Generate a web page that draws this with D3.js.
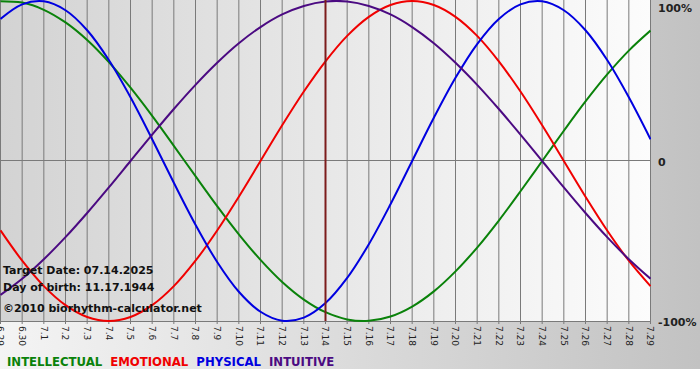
<!DOCTYPE html>
<html>
<head>
<meta charset="utf-8">
<script src="https://cdn.jsdelivr.net/npm/d3@7"></script>
<style>
body { margin: 0; background: #fff; }
</style>
</head>
<body>
<div id="chart"></div>
<script>
var days = ["6.29", "6.30", "7.1", "7.2", "7.3", "7.4", "7.5", "7.6", "7.7", "7.8", "7.9", "7.10",
    "7.11", "7.12", "7.13", "7.14", "7.15", "7.16", "7.17", "7.18", "7.19", "7.20", "7.21", "7.22",
    "7.23", "7.24", "7.25", "7.26", "7.27", "7.28", "7.29"];
var targetDay = "7.14";

var intellectual = [0.999, 0.990, 0.945, 0.866, 0.756, 0.618, 0.458, 0.282, 0.095, -0.095, -0.282,
    -0.458, -0.618, -0.756, -0.866, -0.945, -0.990, -0.999, -0.972, -0.910, -0.815, -0.690, -0.541,
    -0.372, -0.189, 0, 0.189, 0.372, 0.541, 0.690, 0.815];
var emotional = [-0.434, -0.623, -0.782, -0.901, -0.975, -1, -0.975, -0.901, -0.782, -0.623, -0.434,
    -0.223, 0, 0.223, 0.434, 0.623, 0.782, 0.901, 0.975, 1, 0.975, 0.901, 0.782, 0.623, 0.434,
    0.223, 0, -0.223, -0.434, -0.623, -0.782];
var physical = [0.888, 0.979, 0.998, 0.942, 0.817, 0.631, 0.398, 0.136, -0.136, -0.398, -0.631,
    -0.817, -0.942, -0.998, -0.979, -0.888, -0.731, -0.520, -0.270, 0, 0.270, 0.520, 0.731, 0.888,
    0.979, 0.998, 0.942, 0.817, 0.631, 0.398, 0.136];
var intuitive = [-0.837, -0.736, -0.614, -0.476, -0.325, -0.165, 0, 0.165, 0.325, 0.476, 0.614,
    0.736, 0.837, 0.916, 0.969, 0.997, 0.997, 0.969, 0.916, 0.837, 0.736, 0.614, 0.476, 0.325,
    0.165, 0, -0.165, -0.325, -0.476, -0.614, -0.736];

var seriesNames = ["INTELLECTUAL", "EMOTIONAL", "PHYSICAL", "INTUITIVE"];
var seriesColors = ["#0a820a", "#f00000", "#0000e0", "#4b0a82"];
var seriesValues = [intellectual, emotional, physical, intuitive];
var yTickValues = [1, 0, -1];
var yTickLabels = ["100%", "0", "-100%"];
var infoLines = ["Target Date: 07.14.2025", "Day of birth: 11.17.1944", "\u00a92010 biorhythm-calculator.net"];

var width = 700, height = 380;
var plotW = 651, plotTop = 1, plotBottom = 321;

var svg = d3.select("#chart").append("svg")
    .attr("width", width)
    .attr("height", height)
    .style("display", "block");

var defs = svg.append("defs");
var bgGrad = defs.append("linearGradient").attr("id", "bgGrad");
bgGrad.append("stop").attr("offset", "0%").attr("stop-color", "#f4f4f4");
bgGrad.append("stop").attr("offset", "100%").attr("stop-color", "#c2c2c2");
var plotGrad = defs.append("linearGradient").attr("id", "plotGrad");
plotGrad.append("stop").attr("offset", "0%").attr("stop-color", "#d3d3d3");
plotGrad.append("stop").attr("offset", "100%").attr("stop-color", "#fcfcfc");

svg.append("rect")
    .attr("width", width)
    .attr("height", 369)
    .attr("fill", "url(#bgGrad)");

svg.append("rect")
    .attr("x", 0)
    .attr("y", 0)
    .attr("width", plotW)
    .attr("height", plotBottom)
    .attr("fill", "url(#plotGrad)");

var x = d3.scalePoint().domain(days).range([0.5, 650.5]);
var y = d3.scaleLinear().domain([-1, 1]).range([plotBottom, plotTop]);

// vertical day grid + ticks
svg.append("g")
    .selectAll("line")
    .data(days)
    .enter()
    .append("line")
    .attr("x1", function(d) { return x(d); })
    .attr("x2", function(d) { return x(d); })
    .attr("y1", 0)
    .attr("y2", plotBottom + 3)
    .attr("stroke", "#7a7a7a")
    .attr("stroke-width", 1);

// zero line and bottom axis line
svg.append("line")
    .attr("x1", 0).attr("x2", plotW)
    .attr("y1", Math.round(y(0)) - 0.5).attr("y2", Math.round(y(0)) - 0.5)
    .attr("stroke", "#7a7a7a");
svg.append("line")
    .attr("x1", 0).attr("x2", plotW)
    .attr("y1", plotBottom + 0.5).attr("y2", plotBottom + 0.5)
    .attr("stroke", "#7a7a7a");

// x tick labels, rotated
svg.append("g")
    .selectAll("text")
    .data(days)
    .enter()
    .append("text")
    .attr("transform", function(d) { return "translate(" + x(d) + "," + (plotBottom + 5) + ") rotate(90)"; })
    .attr("dy", "0.35em")
    .attr("text-anchor", "start")
    .style("font-family", "'DejaVu Sans', Verdana, sans-serif")
    .style("font-size", "9px")
    .style("fill", "#222")
    .text(function(d) { return d; });

// y labels on the right
svg.append("g")
    .selectAll("text")
    .data(yTickValues)
    .enter()
    .append("text")
    .attr("x", plotW + 7)
    .attr("y", function(d) { return Math.max(y(d) + 5, 12); })
    .style("font-family", "'DejaVu Sans', Verdana, sans-serif")
    .style("font-size", "11px")
    .style("font-weight", "bold")
    .style("fill", "#222")
    .text(function(d, i) { return yTickLabels[i]; });

// curves
var line = d3.line()
    .x(function(d, i) { return x(days[i]); })
    .y(function(d) { return y(d); })
    .curve(d3.curveCatmullRom);

var plot = svg.append("g");
plot.append("clipPath").attr("id", "clip")
    .append("rect").attr("width", plotW).attr("height", plotBottom + 1);

seriesValues.forEach(function(values, k) {
    plot.append("path")
        .datum(values)
        .attr("clip-path", "url(#clip)")
        .attr("fill", "none")
        .attr("stroke", seriesColors[k])
        .attr("stroke-width", 2)
        .attr("d", line);
});

// target date marker
svg.append("line")
    .attr("x1", x(targetDay)).attr("x2", x(targetDay))
    .attr("y1", 0).attr("y2", plotBottom)
    .attr("stroke", "#7c1c1c")
    .attr("stroke-width", 2);

// info text
svg.append("g")
    .selectAll("text")
    .data(infoLines)
    .enter()
    .append("text")
    .attr("x", 3)
    .attr("y", function(d, i) { return [274, 291, 312][i]; })
    .style("font-family", "'DejaVu Sans', Verdana, sans-serif")
    .style("font-size", "11px")
    .style("font-weight", "bold")
    .style("fill", "#111")
    .text(function(d) { return d; });

// legend
var legendX = 7;
seriesNames.forEach(function(name, k) {
    var t = svg.append("text")
        .attr("x", legendX)
        .attr("y", 366)
        .style("font-family", "'DejaVu Sans Condensed', 'DejaVu Sans', sans-serif")
        .style("font-size", "13px")
        .style("font-weight", "bold")
        .style("fill", seriesColors[k])
        .text(name);
    legendX += t.node().getComputedTextLength() + 8;
});
</script>
</body>
</html>
